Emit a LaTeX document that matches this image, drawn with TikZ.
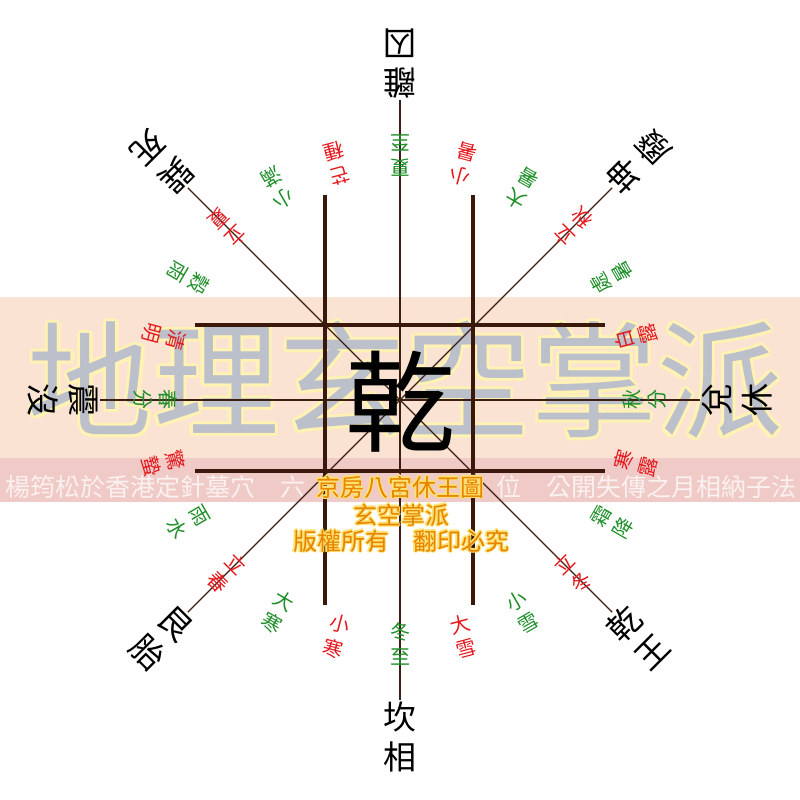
\documentclass[tikz,border=0pt]{standalone}
\usepackage{fontspec}
\newfontfamily\cjk{Noto Sans CJK TC}
\usetikzlibrary{calc}
\definecolor{lineb}{HTML}{3C1E12}
\definecolor{thickb}{HTML}{3A180C}
\definecolor{tred}{HTML}{E4191E}
\definecolor{tgreen}{HTML}{1F8F2A}
\definecolor{bandpeach}{HTML}{FBE3D3}
\definecolor{bandpink}{HTML}{EFCAC6}
\definecolor{wmgray}{HTML}{BCC0CA}
\definecolor{wmglow}{HTML}{FFF2B4}
\definecolor{wmtext}{HTML}{FBF1F0}
\definecolor{ttorange}{HTML}{E68400}
\definecolor{ttglow}{HTML}{FFE070}
\newcommand\halo[4]{\begingroup
  \setbox0=\hbox{#4}%
  \def\hk##1##2{\rlap{\kern##1\raise##2\hbox{\color{#2}\copy0}}}%
  \hk{#1}{0pt}\hk{-#1}{0pt}\hk{0pt}{#1}\hk{0pt}{-#1}%
  \hk{\dimexpr#1*7/10\relax}{\dimexpr#1*7/10\relax}%
  \hk{-\dimexpr#1*7/10\relax}{\dimexpr#1*7/10\relax}%
  \hk{\dimexpr#1*7/10\relax}{-\dimexpr#1*7/10\relax}%
  \hk{-\dimexpr#1*7/10\relax}{-\dimexpr#1*7/10\relax}%
  \hbox{\color{#3}\copy0}\endgroup}
\begin{document}
\begin{tikzpicture}[x=1pt,y=1pt,
  thinline/.style={draw=lineb,line width=1.3pt},
  frameline/.style={draw=thickb,line width=4.5pt},
  outer/.style={font=\cjk\fontsize{33}{33}\selectfont,inner sep=0pt},
  term/.style={font=\cjk\fontsize{20}{20}\selectfont,inner sep=0pt},
  wm/.style={font=\cjk\fontsize{126}{126}\selectfont,inner sep=0pt},
  wmsmall/.style={font=\cjk\fontsize{25}{25}\selectfont,inner sep=0pt,text=wmtext},
  ttl/.style={font=\cjk\fontsize{24}{24}\selectfont,inner sep=0pt}]
\useasboundingbox (0,0) rectangle (800,800);
\fill[white] (0,0) rectangle (800,800);
\coordinate (C) at (400,400);
% watermark band
\fill[bandpeach] (0,342) rectangle (800,503);
\fill[bandpink] (0,298) rectangle (800,342);
\node[wm] (wm) at (405,420) {\halo{3pt}{wmglow}{wmgray}{地理玄空掌派}};
\node[wmsmall,anchor=west] (wml) at (5,313) {楊筠松於香港定針墓穴　六};
\node[wmsmall,anchor=east] (wmr) at (797,313) {位　公開失傳之月相納子法};
% thin radial lines
\foreach \a in {0,45,90,135,180,225,270,315}
  \coordinate (L\a) at ($(C)+(\a:300)$);
\draw[thinline] (L0) -- (L180);
\draw[thinline] (L90) -- (L270);
\draw[thinline] (L45) -- (L225);
\draw[thinline] (L135) -- (L315);
% thick frame lines
\coordinate (V1a) at (325,605); \coordinate (V1b) at (325,195);
\coordinate (V2a) at (473,605); \coordinate (V2b) at (473,195);
\coordinate (H1a) at (195,475); \coordinate (H1b) at (605,475);
\coordinate (H2a) at (195,329); \coordinate (H2b) at (605,329);
\draw[frameline] (V1a) -- (V1b);
\draw[frameline] (V2a) -- (V2b);
\draw[frameline] (H1a) -- (H1b);
\draw[frameline] (H2a) -- (H2b);
% centre
\node[font=\cjk\fontsize{110}{110}\selectfont,inner sep=0pt] (qian) at (400,398) {乾};
% outer trigram labels
\foreach \ang/\a/\b [count=\k] in {90/離/囚,45/坤/廢,0/兌/休,-45/乾/王,-90/坎/相,-135/艮/胎,180/震/沒,135/巽/死} {
  \node[outer,rotate=\ang+90] (o\k a) at ($(C)+(\ang:317)$) {\a};
  \node[outer,rotate=\ang+90] (o\k b) at ($(C)+(\ang:357)$) {\b};
}
% 24 solar terms
\foreach \a/\b [count=\i from 0] in {夏/至,小/暑,大/暑,立/秋,處/暑,白/露,秋/分,寒/露,霜/降,立/冬,小/雪,大/雪,冬/至,小/寒,大/寒,立/春,雨/水,驚/蟄,春/分,清/明,穀/雨,立/夏,小/滿,芒/種} {
  \pgfmathsetmacro\ang{90-15*\i}
  \ifodd\i \def\tc{tred}\else\def\tc{tgreen}\fi
  \node[term,text=\tc,rotate=\ang+90] (t\i a) at ($(C)+(\ang:232)$) {\a};
  \node[term,text=\tc,rotate=\ang+90] (t\i b) at ($(C)+(\ang:257)$) {\b};
}
% title block
\node[ttl] (title) at (400,313) {\halo{1.3pt}{ttglow}{ttorange}{京房八宮休王圖}};
\node[ttl] (school) at (401,285) {\halo{1.3pt}{ttglow}{ttorange}{玄空掌派}};
\node[ttl] (rights) at (401,259) {\halo{1.3pt}{ttglow}{ttorange}{版權所有　翻印必究}};
\end{tikzpicture}
\end{document}
